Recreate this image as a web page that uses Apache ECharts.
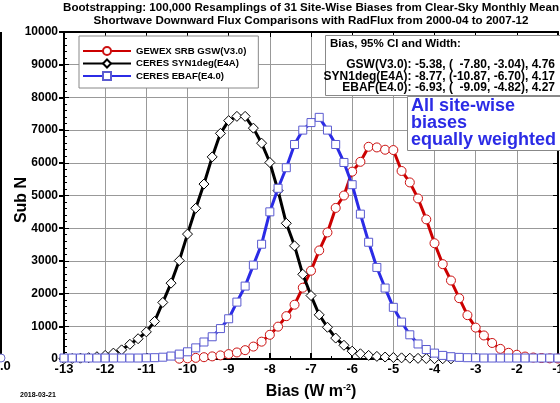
<!DOCTYPE html>
<html><head><meta charset="utf-8">
<script src="https://cdn.jsdelivr.net/npm/echarts@6/dist/echarts.min.js"></script>
<style>html,body{margin:0;padding:0;background:#fff}#c{width:560px;height:403px}</style>
</head><body><div id="c"></div>
<script>
var bins = [-13.0,-12.8,-12.6,-12.4,-12.2,-12.0,-11.8,-11.6,-11.4,-11.2,-11.0,-10.8,-10.6,-10.4,-10.2,-10.0,-9.8,-9.6,-9.4,-9.2,-9.0,-8.8,-8.6,-8.4,-8.2,-8.0,-7.8,-7.6,-7.4,-7.2,-7.0,-6.8,-6.6,-6.4,-6.2,-6.0,-5.8,-5.6,-5.4,-5.2,-5.0,-4.8,-4.6,-4.4,-4.2,-4.0,-3.8,-3.6,-3.4,-3.2,-3.0,-2.8,-2.6,-2.4,-2.2,-2.0,-1.8,-1.6,-1.4,-1.2,-1.0];
var gsw = [null,null,null,null,null,null,null,null,null,null,null,null,null,null,10,20,35,55,80,110,150,200,270,380,530,740,990,1310,1660,2180,2700,3320,3870,4620,5000,5730,6030,6490,6470,6400,6390,5750,5400,4910,4270,3540,2900,2400,1860,1340,960,720,490,310,190,130,75,45,30,20,15];
var syn = [10,15,25,40,70,110,180,280,450,620,830,1150,1730,2320,3010,3820,4610,5350,6180,6900,7290,7420,7420,7060,6600,6010,5150,4150,3460,2590,1940,1350,970,640,420,240,160,110,80,60,45,35,25,20,15,10,8,5,null,null,null,null,null,null,null,null,null,null,null,null,null];
var ebaf = [30,30,30,30,30,30,30,30,30,30,35,40,55,90,150,220,340,520,680,930,1230,1740,2230,2870,3510,4500,5220,5850,6560,7000,7230,7390,7000,6560,6010,5330,4430,3570,2800,2170,1580,1130,740,460,290,180,110,70,50,40,35,30,30,30,30,30,30,30,30,30,30];
var seriesNames = ['GEWEX SRB GSW(V3.0)','CERES SYN1deg(E4A)','CERES EBAF(E4.0)'];
var titleLines = ['Bootstrapping: 100,000 Resamplings of 31 Site-Wise Biases from Clear-Sky Monthly Mean','Shortwave Downward Flux Comparisons with RadFlux from 2000-04 to 2007-12'];
var statsLines = ['GSW(V3.0): -5.38, (  -7.80, -3.04), 4.76','SYN1deg(E4A): -8.77, (-10.87, -6.70), 4.17','EBAF(E4.0): -6.93, (  -9.09, -4.82), 4.27'];

function pairs(v){ return bins.map(function(x,i){ return [x, v[i]]; }); }
var F = 'Liberation Sans, Arial, Helvetica, sans-serif';
var chart = echarts.init(document.getElementById('c'), null, {renderer:'canvas'});
chart.setOption({
  animation:false,
  backgroundColor:'#fff',
  grid:{left:64, right:2, top:32, bottom:44, containLabel:false, outerBoundsMode:'none'},
  legend:{
    orient:'vertical', left:79, top:36, itemGap:2.5, itemWidth:48, itemHeight:10,
    padding:[10,12,7,3], borderColor:'#888', borderWidth:1, backgroundColor:'#fff',
    textStyle:{fontFamily:F, fontWeight:'bold', fontSize:9.6, color:'#000'},
    data:seriesNames
  },
  xAxis:[
    {type:'value', min:-13, max:-1, interval:1, position:'bottom',
     axisLine:{onZero:false, lineStyle:{color:'#000', width:2}},
     axisTick:{inside:true, length:6, lineStyle:{color:'#000', width:2}},
     minorTick:{show:true, splitNumber:2, length:3, lineStyle:{color:'#000', width:1}},
     axisLabel:{margin:4, fontFamily:F, fontWeight:'bold', fontSize:13, color:'#000', showMinLabel:true, showMaxLabel:true},
     splitLine:{show:true, lineStyle:{color:'#999', width:1}},
     name:'{b|Bias (W m}{s|-2}{b|)}', nameLocation:'middle', nameGap:24,
     nameTextStyle:{rich:{b:{fontFamily:F, fontWeight:'bold', fontSize:16, color:'#000'}, s:{fontFamily:F, fontWeight:'bold', fontSize:9, color:'#000', verticalAlign:'top', padding:[0,0,9,0]}}}},
    {type:'value', min:-13, max:-1, interval:1, position:'top',
     axisLine:{onZero:false, lineStyle:{color:'#000', width:2}},
     axisTick:{inside:true, length:5, lineStyle:{color:'#000', width:1}},
     axisLabel:{show:false}, splitLine:{show:false}}
  ],
  yAxis:[
    {type:'value', min:0, max:10000, interval:1000, position:'left',
     axisLine:{onZero:false, lineStyle:{color:'#000', width:2}},
     axisTick:{inside:false, length:5, lineStyle:{color:'#000', width:2}},
     axisLabel:{margin:6, fontFamily:F, fontWeight:'bold', fontSize:12, color:'#000', formatter:function(v){return String(v);}},
     splitLine:{show:true, lineStyle:{color:'#999', width:1}}},
    {type:'value', min:0, max:10000, interval:1000, position:'left',
     axisLine:{show:false},
     axisTick:{show:true, inside:true, length:5, lineStyle:{color:'#000', width:1}},
     minorTick:{show:true, splitNumber:5, length:3, lineStyle:{color:'#000', width:1}},
     axisLabel:{show:false}, splitLine:{show:false}},
    {type:'value', min:0, max:10000, interval:1000, position:'right',
     axisLine:{onZero:false, lineStyle:{color:'#000', width:2}},
     axisTick:{inside:true, length:5, lineStyle:{color:'#000', width:1}},
     axisLabel:{show:false}, splitLine:{show:false}}
  ],
  series:[
    {name:seriesNames[0], type:'line', data:pairs(gsw), symbol:'circle', symbolSize:9, showAllSymbol:true,
     lineStyle:{color:'#cc0000', width:3}, itemStyle:{color:'#fff', borderColor:'#cc1111', borderWidth:1},
     z:2},
    {name:seriesNames[1], type:'line', data:pairs(syn), symbol:'diamond', symbolSize:10, showAllSymbol:true,
     lineStyle:{color:'#000', width:3}, itemStyle:{color:'#fff', borderColor:'#000', borderWidth:1},
     z:3},
    {name:seriesNames[2], type:'line', data:pairs(ebaf), symbol:'rect', symbolSize:8, showAllSymbol:true,
     lineStyle:{color:'#2b2be6', width:3}, itemStyle:{color:'#fff', borderColor:'#5a5ad0', borderWidth:1},
     z:4}
  ],
  graphic:[
    {type:'text', x:311, y:2, z:10, style:{text:titleLines[0], textAlign:'center', fontFamily:F, fontWeight:'bold', fontSize:11.6, fill:'#000'}},
    {type:'text', x:311, y:15, z:10, style:{text:titleLines[1], textAlign:'center', fontFamily:F, fontWeight:'bold', fontSize:11.6, fill:'#000'}},
    {type:'text', x:22, y:200, rotation:Math.PI/2, z:10, style:{text:'Sub N', textAlign:'center', textVerticalAlign:'middle', fontFamily:F, fontWeight:'bold', fontSize:16, fill:'#000'}},
    {type:'rect', shape:{x:325.5, y:35.5, width:240, height:60}, z:10, style:{fill:'#fff', stroke:'#888', lineWidth:1}},
    {type:'text', x:330, y:38, z:11, style:{text:'Bias, 95% CI and Width:', fontFamily:F, fontWeight:'bold', fontSize:11.5, fill:'#000'}},
    {type:'text', x:555, y:59, z:11, style:{text:statsLines[0], textAlign:'right', fontFamily:F, fontWeight:'bold', fontSize:12, fill:'#000'}},
    {type:'text', x:555, y:70.5, z:11, style:{text:statsLines[1], textAlign:'right', fontFamily:F, fontWeight:'bold', fontSize:12, fill:'#000'}},
    {type:'text', x:555, y:82, z:11, style:{text:statsLines[2], textAlign:'right', fontFamily:F, fontWeight:'bold', fontSize:12, fill:'#000'}},
    {type:'rect', shape:{x:407.5, y:96.5, width:160, height:54}, z:10, style:{fill:'#fff', stroke:'#888', lineWidth:1}},
    {type:'text', x:411, y:98, z:11, style:{text:'All site-wise\nbiases\nequally weighted', fontFamily:F, fontWeight:'bold', fontSize:18, lineHeight:17, fill:'#2b2be6'}},
    {type:'rect', shape:{x:0, y:32, width:2, height:322}, z:10, style:{fill:'#000'}},
    {type:'circle', shape:{cx:1, cy:358, r:4}, z:10, style:{fill:'#fff', stroke:'#6a6ac8', lineWidth:1}},
    {type:'text', x:0, y:360, z:10, style:{text:'.0', fontFamily:F, fontWeight:'bold', fontSize:13, fill:'#000'}},
    {type:'text', x:20, y:392, z:10, style:{text:'2018-03-21', fontFamily:F, fontWeight:'bold', fontSize:7, fill:'#000'}}
  ]
});
</script></body></html>
